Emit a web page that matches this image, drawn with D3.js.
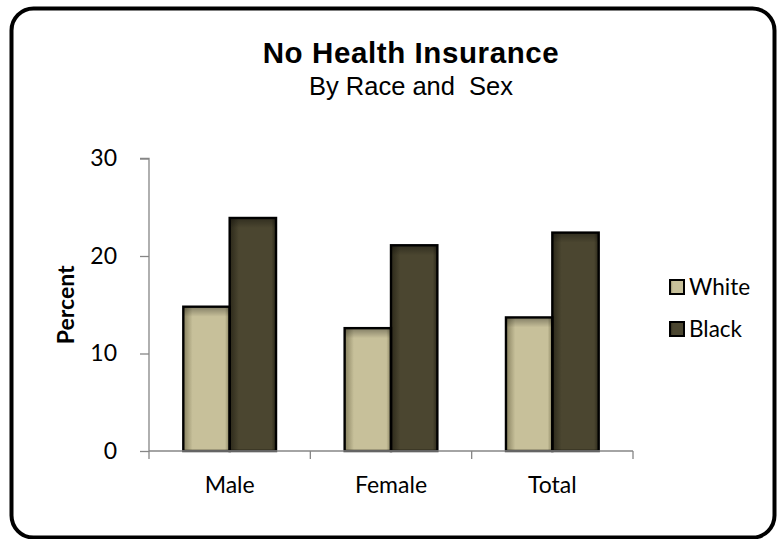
<!DOCTYPE html>
<html>
<head>
<meta charset="utf-8">
<script src="https://cdn.jsdelivr.net/npm/d3@7"></script>
<style>
  html, body { margin: 0; padding: 0; background: #fff; }
  svg { display: block; }
</style>
</head>
<body>
<svg id="chart" width="778" height="539"></svg>
<script>
// Uninsured rates, percent
const categories = ["Male", "Female", "Total"];
const seriesNames = ["White", "Black"];
const whiteValues = [14.8, 12.6, 13.7];
const blackValues = [23.9, 21.1, 22.4];
const yTicks = [0, 10, 20, 30];

const svg = d3.select("#chart");
const bodyFont = "Lato, 'Open Sans', sans-serif";
const titleFont = "'Liberation Sans', Arial, sans-serif";

// Outer rounded frame
svg.append("rect")
  .attr("x", 11.5).attr("y", 8.5)
  .attr("width", 763).attr("height", 529)
  .attr("rx", 22).attr("ry", 22)
  .attr("fill", "#fff").attr("stroke", "#000").attr("stroke-width", 4);

// Gradients giving the bars a bevelled look
const defs = svg.append("defs");
function barGradient(id, edge, mid) {
  const g = defs.append("linearGradient").attr("id", id)
    .attr("x1", "0").attr("x2", "1").attr("y1", "0").attr("y2", "0");
  g.append("stop").attr("offset", "0").attr("stop-color", edge);
  g.append("stop").attr("offset", "0.2").attr("stop-color", mid);
  g.append("stop").attr("offset", "0.9").attr("stop-color", mid);
  g.append("stop").attr("offset", "1").attr("stop-color", edge);
}
barGradient("gWhite", "#87815f", "#c7c09a");
barGradient("gBlack", "#2c291a", "#4b4630");
const topShade = defs.append("linearGradient").attr("id", "gTop")
  .attr("x1", "0").attr("x2", "0").attr("y1", "0").attr("y2", "1");
topShade.append("stop").attr("offset", "0").attr("stop-color", "#000").attr("stop-opacity", 0.35);
topShade.append("stop").attr("offset", "1").attr("stop-color", "#000").attr("stop-opacity", 0);

const plot = { left: 149, right: 633, top: 158.5, bottom: 451 };

const x0 = d3.scaleBand().domain(categories)
  .range([plot.left, plot.right]).paddingInner(0).paddingOuter(0);
const x1 = d3.scaleBand().domain(seriesNames)
  .range([0, x0.bandwidth()]).paddingInner(0).paddingOuter(0.74);
const y = d3.scaleLinear().domain([0, 30]).range([plot.bottom, plot.top]);

const data = categories.map((c, i) => ({
  cat: c,
  vals: [{ s: "White", v: whiteValues[i] }, { s: "Black", v: blackValues[i] }]
}));
const fillFor = { White: "url(#gWhite)", Black: "url(#gBlack)" };

const groups = svg.append("g").selectAll("g").data(data).join("g")
  .attr("transform", d => `translate(${x0(d.cat)},0)`);

groups.selectAll("rect.bar").data(d => d.vals).join("rect")
  .attr("class", "bar")
  .attr("x", d => x1(d.s)).attr("width", x1.bandwidth())
  .attr("y", d => y(d.v)).attr("height", d => y(0) - y(d.v))
  .attr("fill", d => fillFor[d.s]);
groups.selectAll("rect.shade").data(d => d.vals).join("rect")
  .attr("class", "shade")
  .attr("x", d => x1(d.s)).attr("width", x1.bandwidth())
  .attr("y", d => y(d.v)).attr("height", 10)
  .attr("fill", "url(#gTop)");
groups.selectAll("rect.edge").data(d => d.vals).join("rect")
  .attr("class", "edge")
  .attr("x", d => x1(d.s)).attr("width", x1.bandwidth())
  .attr("y", d => y(d.v)).attr("height", d => y(0) - y(d.v))
  .attr("fill", "none").attr("stroke", "#000").attr("stroke-width", 2.4);

// Axes
const axisColor = "#868686";
const yAxis = svg.append("g").attr("transform", `translate(${plot.left},0)`)
  .call(d3.axisLeft(y).tickValues(yTicks).tickSize(9).tickPadding(23).tickFormat(d3.format("d")));
yAxis.select(".domain").attr("stroke", axisColor).attr("stroke-width", 1.3)
  .attr("d", `M-9,${plot.top}H0V${plot.bottom}`);
yAxis.selectAll(".tick line").attr("stroke", axisColor).attr("stroke-width", 1.3);
yAxis.selectAll(".tick text").attr("font-family", bodyFont).attr("font-size", 23).attr("fill", "#000");

const xAxis = svg.append("g").attr("transform", `translate(0,${plot.bottom})`)
  .call(d3.axisBottom(x0).tickSize(0));
xAxis.select(".domain").attr("stroke", axisColor).attr("stroke-width", 1.3)
  .attr("d", `M${plot.left},0H${plot.right}`);
xAxis.selectAll(".tick text").attr("font-family", bodyFont).attr("font-size", 23)
  .attr("fill", "#000").attr("dy", 0).attr("y", 42);
// Category boundary ticks
const bounds = categories.map(c => x0(c)).concat([plot.right]);
xAxis.selectAll("line.bound").data(bounds).join("line")
  .attr("class", "bound")
  .attr("x1", d => d).attr("x2", d => d).attr("y1", 0).attr("y2", 8)
  .attr("stroke", axisColor).attr("stroke-width", 1.3);

// Titles
svg.append("text").attr("x", 411).attr("y", 63)
  .attr("text-anchor", "middle").attr("font-family", titleFont)
  .attr("font-weight", "bold").attr("font-size", 29.5).attr("letter-spacing", 0.6)
  .text("No Health Insurance");
svg.append("text").attr("x", 411).attr("y", 95)
  .attr("text-anchor", "middle").attr("font-family", titleFont)
  .attr("font-size", 25.5).attr("xml:space", "preserve").style("white-space", "pre")
  .text("By Race and  Sex");

svg.append("text")
  .attr("transform", `translate(74,${(plot.top + plot.bottom) / 2}) rotate(-90)`)
  .attr("text-anchor", "middle").attr("font-family", bodyFont)
  .attr("font-weight", "bold").attr("font-size", 23).text("Percent");

// Legend
const legend = svg.append("g").attr("transform", "translate(670,0)");
const legendY = [287, 329];
const legItems = legend.selectAll("g").data(seriesNames).join("g")
  .attr("transform", (d, i) => `translate(0,${legendY[i]})`);
legItems.append("rect").attr("x", 0).attr("y", -7).attr("width", 14).attr("height", 14)
  .attr("fill", d => fillFor[d]).attr("stroke", "#000").attr("stroke-width", 2);
legItems.append("text").attr("x", 19).attr("y", 8)
  .attr("font-family", bodyFont).attr("font-size", 22.5).text(d => d);
</script>
</body>
</html>
